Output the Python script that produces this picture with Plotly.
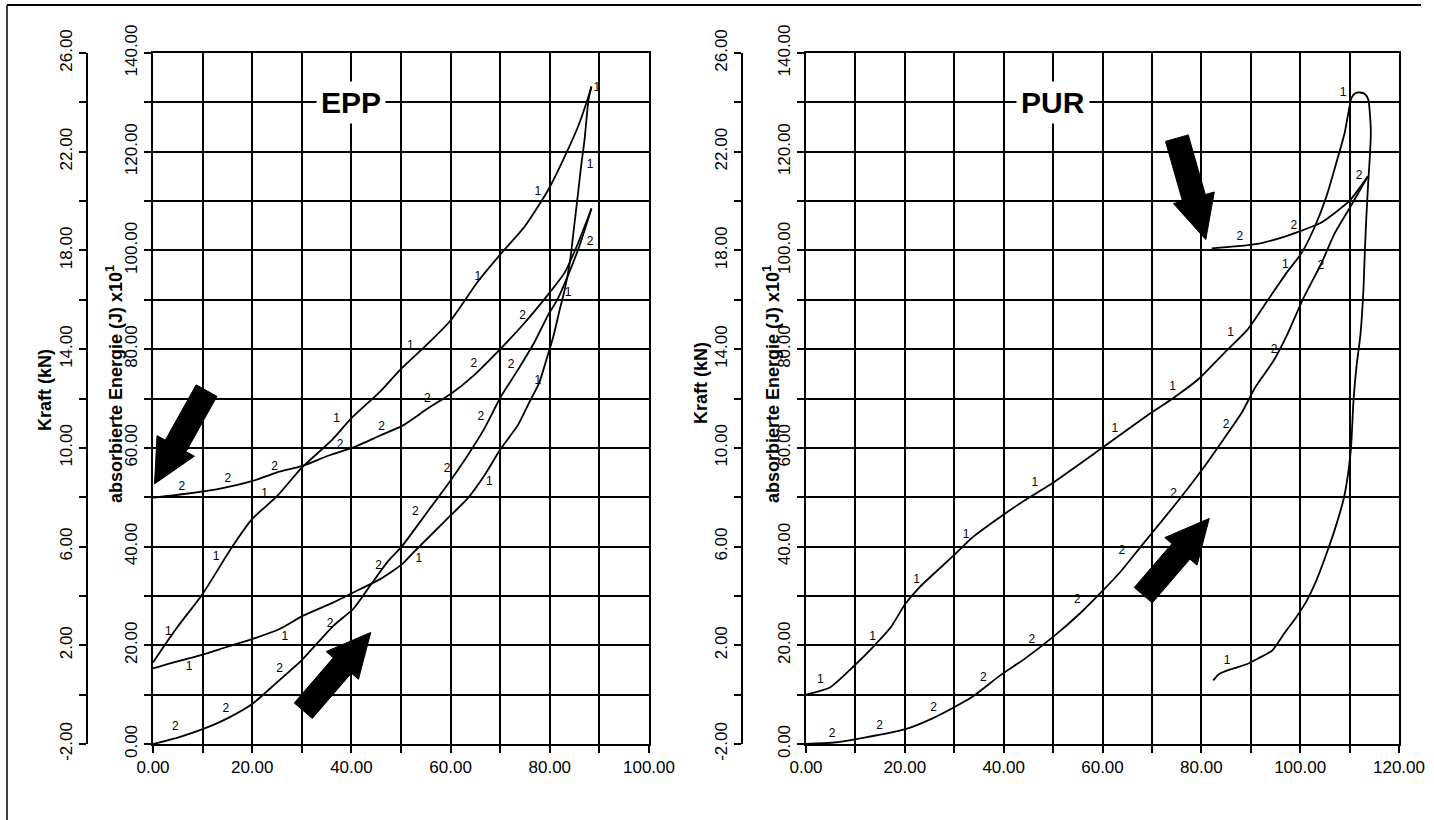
import math
import plotly.graph_objects as go

W, H = 1434, 820

# ---------------- EPP ----------------
# force curve, specimen 1 (kN) - loading branch
epp_f_load_x = [0, 2, 5, 10, 16, 20, 25, 30, 36, 40, 46, 50, 55, 60, 65.5, 70.2,
                74.9, 79.7, 83, 85.7, 87.8, 88.4]
epp_f_load_kn = [1.30, 1.90, 2.76, 4.08, 6.00, 7.12, 8.04, 9.20, 10.30, 11.20, 12.32,
                 13.20, 14.14, 15.16, 16.74, 17.88, 18.96, 20.46, 21.80, 23.02, 24.24, 24.64]
# force curve - unloading branch
epp_f_unload_x = [88.4, 87.8, 87, 86.3, 85.7, 84.9, 84.1, 83, 82, 80.7, 79.3, 77.8, 76.2,
                  73.5, 70.1, 66.8, 63.4, 60, 56.6, 52.6, 50.3, 45.8, 41.8, 36.4, 30.3,
                  25.5, 20.1, 14.7, 9.3, 4, 0]
epp_f_unload_kn = [24.64, 24.10, 22.48, 21.40, 20.32, 18.96, 17.60, 16.40, 15.60, 14.50,
                   13.56, 12.60, 11.98, 10.90, 9.96, 8.88, 7.94, 7.26, 6.58, 5.78, 5.30,
                   4.68, 4.28, 3.74, 3.20, 2.66, 2.26, 1.92, 1.58, 1.30, 1.06]
# absorbed energy, specimen 2 (J x10^1) - loading branch
epp_e_load_x = [0, 5, 10, 15, 20, 25, 30, 36.4, 40.4, 43.8, 47.2, 50.3, 55.3, 60, 63.4,
                66.8, 70.1, 73.5, 76.9, 79.6, 81.6, 83.7, 86, 88.4]
epp_e_load = [0, 1.3, 3, 5.2, 8.1, 12.5, 17, 24, 27.4, 32.1, 36.8, 40.2, 47, 53.4, 58.4,
              63.9, 70.3, 75.7, 81.4, 86.8, 90.2, 95, 101, 108.5]
# absorbed energy - unloading branch
epp_e_unload_x = [88.4, 85.5, 83, 80, 77.6, 74.9, 70.1, 64.7, 60, 55.3, 50.3, 45.8, 40.4,
                  35.3, 30.3, 24.9, 20.1, 12.8, 6.7, 0]
epp_e_unload = [108.5, 101, 95.5, 91.5, 88.5, 85.3, 80.1, 74.7, 70.9, 67.9, 64.5, 62.5,
                60.1, 58.4, 56.4, 55.0, 53.3, 51.6, 50.7, 49.9]

# curve identifiers written along the EPP lines
epp_lab1_x = [3.1, 7.3, 12.7, 22.5, 26.6, 37, 51.9, 53.6, 65.5, 67.8, 77.6, 77.6, 83.7, 88.1, 89.5]
epp_lab1_y = [22.7, 15.6, 37.8, 50.7, 21.6, 65.9, 80.7, 37.5, 94.7, 53, 73.6, 111.9, 91.3, 117.3, 133]
epp_lab2_x = [4.5, 14.7, 25.5, 35.7, 45.5, 52.9, 59.3, 66.1, 72.2, 88.1,
              5.8, 15.1, 24.5, 37.7, 46.1, 55.3, 64.7, 74.5]
epp_lab2_y = [3.4, 7.1, 15.2, 24.3, 36.1, 47, 55.7, 66.2, 76.7, 101.8,
              52, 53.7, 56.1, 60.5, 64.2, 69.9, 77, 86.8]

# ---------------- PUR ----------------
pur_f_x = [0, 4.9, 9.8, 13.5, 17.2, 20.1, 23, 29.9, 33.6, 39.3, 44.3, 49.2, 59.8, 69.7,
           74.2, 79.5, 85.2, 89.3, 93.5, 97.2, 100.3, 103, 105.3, 107.3, 109, 110, 110.4,
           111.1, 112.1, 113.1, 113.8, 114.1, 114.3, 114.1, 113.8, 113.4, 113.1, 112.8,
           112.2, 111.4, 110.8, 110.3, 109.8, 108.9, 107.4, 105.7, 103.3, 101.2, 99.2,
           96.7, 94.3, 91.8, 89.3, 86.1, 83.6, 82.4]
pur_f_kn = [0.00, 0.30, 1.18, 1.92, 2.74, 3.68, 4.36, 5.64, 6.36, 7.20, 7.88, 8.48, 9.98,
            11.40, 12.00, 12.80, 13.96, 14.78, 16.00, 17.08, 17.90, 18.98, 20.18, 21.54,
            22.76, 23.84, 24.18, 24.36, 24.40, 24.34, 24.10, 23.56, 22.76, 21.80, 20.86,
            19.38, 18.02, 16.40, 14.60, 13.30, 11.94, 10.04, 9.10, 8.02, 6.94, 5.92, 4.64,
            3.76, 3.14, 2.46, 1.78, 1.50, 1.24, 1.04, 0.84, 0.58]
pur_e_load_x = [0, 5.7, 10.2, 20.1, 25.4, 29.9, 33.6, 39.3, 44.3, 50, 55.7, 59.8, 63.9,
                68, 72.1, 76.2, 80.1, 84.4, 88.1, 91, 94.7, 97.5, 100.5, 104.3, 107,
                110.2, 113.7]
pur_e_load = [0, 0.3, 1, 3, 5.1, 7.4, 9.5, 13.9, 17.3, 21.7, 26.7, 30.8, 35.2, 40.3,
              45.3, 50.4, 55.5, 61.6, 67, 72.4, 77.8, 83.2, 90, 97.4, 103.5, 108.9, 115]
pur_e_unload_x = [113.7, 110.2, 107, 104, 100.3, 96.9, 92.2, 86.8, 82.1]
pur_e_unload = [115, 110.3, 107.6, 105.5, 104, 102.8, 101.5, 100.8, 100.4]

pur_lab1_x = [2.9, 13.5, 22.4, 32.4, 46.3, 62.5, 74.2, 85.9, 97, 108.7, 85.2]
pur_lab1_y = [13, 21.7, 33.2, 42.3, 52.8, 63.9, 72.4, 83.2, 97.1, 131.9, 16.9]
pur_lab2_x = [5.3, 14.9, 25.8, 35.9, 45.7, 54.9, 63.9, 74.4, 85, 94.7, 104.2, 111.9, 98.7, 87.8]
pur_lab2_y = [2, 3.7, 7.3, 13.4, 21, 29.2, 39.1, 50.7, 64.6, 79.8, 96.8, 115, 105, 102.8]

# force-axis tick values (labels written with a plain hyphen for negatives)
kraft_ticks = [-2, 2, 6, 10, 14, 18, 22, 26]
kraft_ticktext = [f"{v:.2f}" for v in kraft_ticks]

# block arrows: (tail x, tail y, tip x, tip y) in energy-axis units
epp_arrows = [(10.8, 71.6, 0.3, 52.7), (30.3, 6.75, 43.9, 22.6)]
pur_arrows = [(75.05, 122.75, 80.9, 102.2), (68.25, 30.15, 81.6, 45.7)]

INK = "#000000"
FONT = "Liberation Sans, Arial, sans-serif"
px_x = lambda p: p / W
px_y = lambda p: 1 - p / H

fig = go.Figure()


def arrow_polygon(tx, ty, hx, hy, shaft=2.4, head_len=8.8, head_half=4.3):
    dx, dy = hx - tx, hy - ty
    L = math.hypot(dx, dy)
    ux, uy = dx / L, dy / L
    nx, ny = -uy, ux
    bx, by = hx - ux * head_len, hy - uy * head_len
    pts = [
        (tx + nx * shaft, ty + ny * shaft),
        (bx + nx * shaft, by + ny * shaft),
        (bx + nx * head_half, by + ny * head_half),
        (hx, hy),
        (bx - nx * head_half, by - ny * head_half),
        (bx - nx * shaft, by - ny * shaft),
        (tx - nx * shaft, ty - ny * shaft),
        (tx + nx * shaft, ty + ny * shaft),
    ]
    return [p[0] for p in pts], [p[1] for p in pts]


def add_line(x, y, xa, ya):
    fig.add_trace(go.Scatter(x=x, y=y, xaxis=xa, yaxis=ya, mode="lines",
                             line=dict(color=INK, width=1.8, shape="spline", smoothing=0.6),
                             hoverinfo="skip", showlegend=False))


def add_labels(x, y, text, xa, ya):
    fig.add_trace(go.Scatter(x=x, y=y, xaxis=xa, yaxis=ya, mode="text",
                             text=[text] * len(x),
                             textfont=dict(family=FONT, size=12, color=INK),
                             hoverinfo="skip", showlegend=False, cliponaxis=False))


def add_arrows(arrows, xa, ya):
    for a in arrows:
        ax_, ay_ = arrow_polygon(*a)
        fig.add_trace(go.Scatter(x=ax_, y=ay_, xaxis=xa, yaxis=ya, mode="lines",
                                 fill="toself", fillcolor=INK,
                                 line=dict(color=INK, width=1),
                                 hoverinfo="skip", showlegend=False))


# EPP panel: energy on y, force on y3
add_line(epp_f_load_x, epp_f_load_kn, "x", "y3")
add_line(epp_f_unload_x, epp_f_unload_kn, "x", "y3")
add_line(epp_e_load_x, epp_e_load, "x", "y")
add_line(epp_e_unload_x, epp_e_unload, "x", "y")
add_labels(epp_lab1_x, epp_lab1_y, "1", "x", "y")
add_labels(epp_lab2_x, epp_lab2_y, "2", "x", "y")
add_arrows(epp_arrows, "x", "y")

# PUR panel: energy on y2, force on y4
add_line(pur_f_x, pur_f_kn, "x2", "y4")
add_line(pur_e_load_x, pur_e_load, "x2", "y2")
add_line(pur_e_unload_x, pur_e_unload, "x2", "y2")
add_labels(pur_lab1_x, pur_lab1_y, "1", "x2", "y2")
add_labels(pur_lab2_x, pur_lab2_y, "2", "x2", "y2")
add_arrows(pur_arrows, "x2", "y2")

tick_font = dict(family=FONT, size=17, color=INK)
y_dom = [px_y(744), px_y(53)]


def xaxis(dom, xmax):
    return dict(domain=dom, range=[0, xmax], tick0=0, dtick=20, tickformat=".2f",
                ticks="outside", ticklen=7, tickwidth=1.5, tickcolor=INK,
                tickfont=tick_font, showgrid=True, gridcolor=INK, gridwidth=1.5,
                minor=dict(dtick=10, tick0=0, showgrid=True, gridcolor=INK, gridwidth=1.5,
                           ticks="outside", ticklen=7, tickwidth=1.5, tickcolor=INK),
                showline=True, mirror=True, linecolor=INK, linewidth=2, zeroline=False,
                automargin=False, fixedrange=True)


def eaxis(anchor):
    return dict(domain=y_dom, range=[0, 140], anchor=anchor, tick0=0, dtick=20,
                tickformat=".2f", tickangle=-90, ticks="outside", ticklen=7, tickwidth=1.5,
                tickcolor=INK, tickfont=tick_font, showgrid=True, gridcolor=INK, gridwidth=2,
                minor=dict(dtick=10, tick0=0, showgrid=True, gridcolor=INK, gridwidth=2,
                           ticks="outside", ticklen=7, tickwidth=1.5, tickcolor=INK),
                showline=True, mirror=True, linecolor=INK, linewidth=2, zeroline=False,
                automargin=False, fixedrange=True)


def faxis(over, pos):
    return dict(overlaying=over, anchor="free", position=pos, side="left",
                range=[-2, 26], tickmode="array", tickvals=kraft_ticks,
                ticktext=kraft_ticktext, tickangle=-90,
                ticks="outside", ticklen=7, tickwidth=1.5, tickcolor=INK, tickfont=tick_font,
                minor=dict(dtick=2, tick0=-2, ticks="outside", ticklen=7, tickwidth=1.5,
                           tickcolor=INK, showgrid=False),
                showgrid=False, showline=True, linecolor=INK, linewidth=1.5, zeroline=False,
                automargin=False, fixedrange=True)


title_font = dict(family=FONT, size=18, color=INK)
annotations = []
for cx, cy, txt in [(45, 390, "<b>Kraft (kN)</b>"), (701, 383, "<b>Kraft (kN)</b>"),
                    (114, 384, "<b>absorbierte Energie (J) x10<sup>1</sup></b>"),
                    (771, 384, "<b>absorbierte Energie (J) x10<sup>1</sup></b>")]:
    annotations.append(dict(x=px_x(cx), y=px_y(cy), xref="paper", yref="paper",
                            text=txt, textangle=-90, showarrow=False, font=title_font,
                            xanchor="center", yanchor="middle"))
for xr, yr, xv, txt in [("x", "y", 40, "<b>EPP</b>"), ("x2", "y2", 50, "<b>PUR</b>")]:
    annotations.append(dict(x=xv, y=130, xref=xr, yref=yr, text=txt, showarrow=False,
                            font=dict(family=FONT, size=30, color=INK),
                            bgcolor="white", borderpad=4, xanchor="center", yanchor="middle"))

fig.update_layout(
    width=W, height=H, autosize=False,
    margin=dict(l=0, r=0, t=0, b=0, pad=0, autoexpand=False),
    paper_bgcolor="white", plot_bgcolor="white",
    xaxis=xaxis([px_x(153), px_x(649)], 100) | dict(anchor="y"),
    xaxis2=xaxis([px_x(806), px_x(1399)], 120) | dict(anchor="y2"),
    yaxis=eaxis("x"),
    yaxis2=eaxis("x2"),
    yaxis3=faxis("y", px_x(87)),
    yaxis4=faxis("y2", px_x(742)),
    annotations=annotations,
    shapes=[
        dict(type="line", xref="paper", yref="paper", x0=px_x(7), x1=px_x(1421),
             y0=px_y(5), y1=px_y(5), line=dict(color=INK, width=2)),
        dict(type="line", xref="paper", yref="paper", x0=px_x(7), x1=px_x(7),
             y0=px_y(5), y1=0, line=dict(color=INK, width=1.5)),
    ],
    showlegend=False,
)

fig.write_html("out.html")
